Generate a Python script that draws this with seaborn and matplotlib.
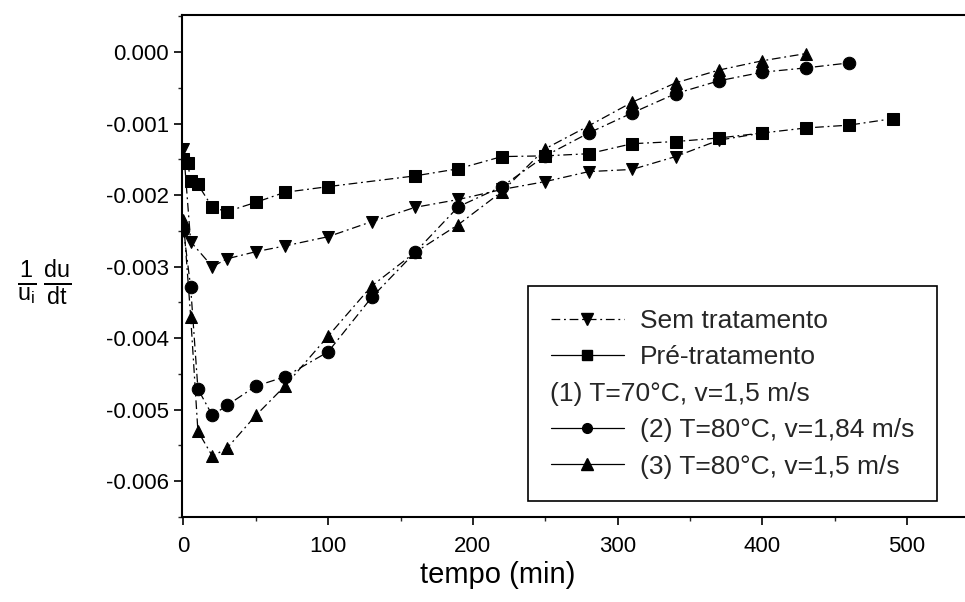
import numpy as np
import pandas as pd
import matplotlib
matplotlib.use("Agg")
import matplotlib.pyplot as plt
import seaborn as sns
from matplotlib.lines import Line2D
from matplotlib.ticker import MultipleLocator, FormatStrFormatter

# ---- data ----
t_sem = [0, 5, 20, 30, 50, 70, 100, 130, 160, 190, 220, 250, 280, 310, 340, 370, 400]
v_sem = [-0.00135, -0.00265, -0.00300, -0.00289, -0.00279, -0.00271, -0.00258, -0.00237,
         -0.00217, -0.00206, -0.00192, -0.00181, -0.00167, -0.00164, -0.00146, -0.00123, -0.00113]

t_pre = [0, 3, 5, 10, 20, 30, 50, 70, 100, 160, 190, 220, 250, 280, 310, 340, 370, 400, 430, 460, 490]
v_pre = [-0.00150, -0.00155, -0.00180, -0.00185, -0.00217, -0.00223, -0.00210, -0.00196, -0.00188,
         -0.00173, -0.00163, -0.00146, -0.00145, -0.00142, -0.00128, -0.00125, -0.00120, -0.00113,
         -0.00106, -0.00102, -0.00093]

t_c2 = [0, 5, 10, 20, 30, 50, 70, 100, 130, 160, 190, 220, 250, 280, 310, 340, 370, 400, 430, 460]
v_c2 = [-0.00248, -0.00329, -0.00471, -0.00508, -0.00494, -0.00467, -0.00454, -0.00419, -0.00343,
        -0.00280, -0.00216, -0.00188, -0.00145, -0.00113, -0.00085, -0.00058, -0.00040, -0.00028,
        -0.00022, -0.00015]

t_c3 = [0, 5, 10, 20, 30, 50, 70, 100, 130, 160, 190, 220, 250, 280, 310, 340, 370, 400, 430]
v_c3 = [-0.00234, -0.00370, -0.00530, -0.00565, -0.00554, -0.00508, -0.00467, -0.00397, -0.00327,
        -0.00280, -0.00241, -0.00195, -0.00135, -0.00103, -0.00070, -0.00043, -0.00025, -0.00012,
        -0.00002]

labels = ["Sem tratamento", "Pré-tratamento", "(1) T=70°C, v=1,5 m/s",
          "(2) T=80°C, v=1,84 m/s", "(3) T=80°C, v=1,5 m/s"]
x_ticks = [0, 100, 200, 300, 400, 500]
y_ticks = [0.000, -0.001, -0.002, -0.003, -0.004, -0.005, -0.006]

# ---- style ----
sns.set_theme(style="white")
plt.rcParams['font.family'] = ['Liberation Sans', 'DejaVu Sans']
plt.rcParams['axes.unicode_minus'] = False
plt.rcParams['mathtext.fontset'] = 'custom'
plt.rcParams['mathtext.rm'] = 'Liberation Sans'
plt.rcParams['mathtext.it'] = 'Liberation Sans'

fig = plt.figure(figsize=(9.65, 6.02), dpi=100)
ax = fig.add_axes([0.1886, 0.1412, 0.8114, 0.8339])

ls = (0, (7, 3, 1.5, 3))
series = [
    (t_sem, v_sem, 'v', labels[0]),
    (t_pre, v_pre, 's', labels[1]),
    (t_c2, v_c2, 'o', labels[3]),
    (t_c3, v_c3, '^', labels[4]),
]
for t, v, m, lab in series:
    df = pd.DataFrame({"t": t, "v": v})
    sns.lineplot(data=df, x="t", y="v", ax=ax, color='black', marker=m,
                 markersize=9, markeredgecolor='black', markerfacecolor='black',
                 linestyle=ls, linewidth=0.9, sort=False, legend=False)

ax.set_xlim(-1, 540)
ax.set_ylim(-0.0065, 0.00052)
ax.set_xticks(x_ticks)
ax.set_yticks(y_ticks)
ax.xaxis.set_minor_locator(MultipleLocator(50))
ax.yaxis.set_minor_locator(MultipleLocator(0.0005))
ax.yaxis.set_major_formatter(FormatStrFormatter('%.3f'))
ax.tick_params(axis='both', which='major', direction='out', length=6, width=1.2,
               colors='black', labelsize=16, left=True, bottom=True)
ax.tick_params(axis='both', which='minor', direction='out', length=3, width=1.0,
               left=True, bottom=True)
ax.tick_params(axis='x', pad=8)
for s in ['left', 'bottom', 'top']:
    ax.spines[s].set_color('black')
    ax.spines[s].set_linewidth(1.5)
ax.spines['right'].set_visible(False)

ax.set_xlabel("tempo (min)", fontsize=21, color='black')
ax.xaxis.set_label_coords((496 - 182) / 780, -0.088)
ax.set_ylabel("")

fig.text(0.018, 0.53, r"$\frac{\mathrm{1}}{\mathrm{u_i}}\,\frac{\mathrm{du}}{\mathrm{dt}}$",
         fontsize=24, color='black', va='center')

handles = [
    Line2D([], [], color='black', marker='v', markersize=8, linestyle=ls, linewidth=0.9),
    Line2D([], [], color='black', marker='s', markersize=7, linestyle='-', linewidth=0.9),
    Line2D([], [], color='none', marker=None, linestyle='none'),
    Line2D([], [], color='black', marker='o', markersize=7, linestyle='-', linewidth=0.9),
    Line2D([], [], color='black', marker='^', markersize=8, linestyle='-', linewidth=0.9),
]
leg = ax.legend(handles, labels, loc='lower left', bbox_to_anchor=(0.442, 0.032),
                fontsize=19, frameon=True, fancybox=False, edgecolor='black',
                framealpha=1, handlelength=2.8, handletextpad=0.6, labelspacing=0.47,
                borderpad=0.85, borderaxespad=0)
leg.get_frame().set_linewidth(1.2)
leg.get_texts()[2].set_x(-90)

fig.savefig("out.png", dpi=100)
